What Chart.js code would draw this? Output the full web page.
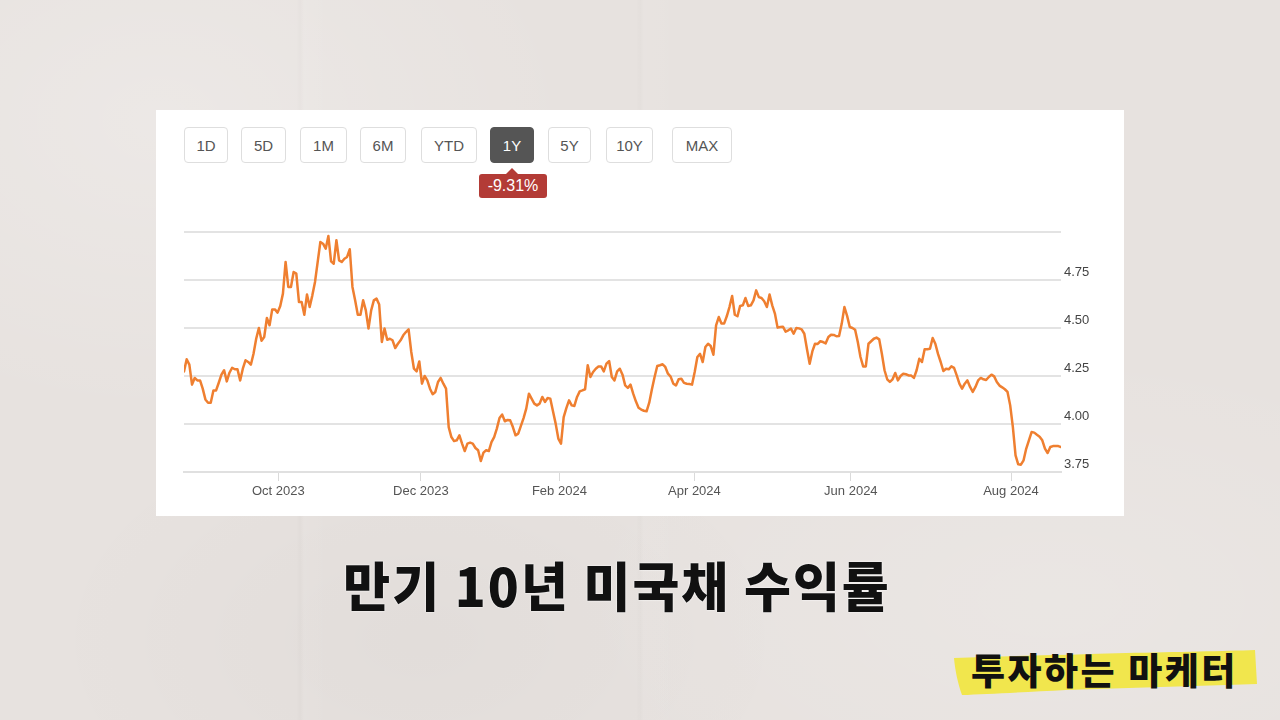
<!DOCTYPE html>
<html>
<head>
<meta charset="utf-8">
<script src="https://cdn.jsdelivr.net/npm/chart.js@4.4.1/dist/chart.umd.min.js"></script>
<style>
html,body{margin:0;padding:0;}
body{width:1280px;height:720px;overflow:hidden;position:relative;background:#e7e2df;font-family:'Liberation Sans',Arial,sans-serif;}
.paper{position:absolute;inset:0;background:
  radial-gradient(ellipse 420px 300px at 160px 120px, rgba(255,255,255,0.22), rgba(255,255,255,0) 100%),
  radial-gradient(ellipse 500px 260px at 1050px 600px, rgba(255,255,255,0.14), rgba(255,255,255,0) 100%),
  radial-gradient(ellipse 380px 240px at 420px 640px, rgba(0,0,0,0.025), rgba(0,0,0,0) 100%),
  linear-gradient(90deg, rgba(0,0,0,0) 296px, rgba(0,0,0,0.015) 300px, rgba(255,255,255,0.06) 304px, rgba(0,0,0,0) 330px, rgba(0,0,0,0) 636px, rgba(0,0,0,0.012) 640px, rgba(255,255,255,0.05) 644px, rgba(0,0,0,0) 680px);}
.panel{position:absolute;left:156px;top:110px;width:968px;height:406px;background:#fff;}
.btn{position:absolute;top:127px;height:36px;box-sizing:border-box;border:1px solid #dedede;border-radius:4px;color:#555;font-size:15px;display:flex;align-items:center;justify-content:center;background:#fff;}
.btn.on{background:#555;border-color:#555;color:#fff;}
.badge{position:absolute;left:479px;top:174px;width:68px;height:24px;background:#b33b36;color:#fff;border-radius:3px;font-size:16px;display:flex;align-items:center;justify-content:center;}
.tri{position:absolute;left:506px;top:168px;width:0;height:0;border-left:6px solid transparent;border-right:6px solid transparent;border-bottom:6px solid #b33b36;}
#wrap{position:absolute;left:156px;top:200px;width:968px;height:316px;}
.title{position:absolute;left:0;width:1234px;top:549px;text-align:center;font-family:'Noto Sans CJK KR',sans-serif;font-weight:900;font-size:51px;line-height:70px;color:#111;letter-spacing:2px;text-shadow:0 0 2px #fff,0 0 1px #fff;transform:scaleY(1.04);}
.brush{position:absolute;left:946px;top:644px;width:312px;height:54px;}
.tag{position:absolute;left:971px;top:643px;font-family:'Noto Sans CJK KR',sans-serif;font-weight:900;font-size:37px;line-height:52px;color:#111;white-space:nowrap;letter-spacing:2.5px;}
</style>
</head>
<body>
<div class="paper"></div>
<div class="panel"></div>
<div class="btn" style="left:184px;width:44px;">1D</div>
<div class="btn" style="left:241px;width:45px;">5D</div>
<div class="btn" style="left:300px;width:47px;">1M</div>
<div class="btn" style="left:360px;width:46px;">6M</div>
<div class="btn" style="left:421px;width:56px;">YTD</div>
<div class="btn on" style="left:490px;width:44px;">1Y</div>
<div class="btn" style="left:548px;width:43px;">5Y</div>
<div class="btn" style="left:606px;width:47px;">10Y</div>
<div class="btn" style="left:672px;width:60px;">MAX</div>
<div class="tri"></div>
<div class="badge">-9.31%</div>
<div id="wrap"><canvas id="c" width="968" height="316"></canvas></div>
<div class="title">만기 10년 미국채 수익률</div>
<svg class="brush" viewBox="0 0 312 54" width="312" height="54">
  <path d="M8 14 C60 12 120 11 180 9 C230 8 280 7 309 6 L311 40 C250 42 180 44 120 46 C80 48 40 50 16 51 C12 40 9 26 8 14 Z" fill="#f1e64d"/>
</svg>
<div class="tag">투자하는 마케터</div>
<script>
// 10-year US Treasury yield (%), one reading per plotted step, Aug 2023 - Aug 2024
const yields = [
 4.274,4.337,4.309,4.205,4.240,4.227,4.227,4.184,4.128,4.111,
 4.111,4.175,4.175,4.215,4.257,4.280,4.222,4.267,4.293,4.285,
 4.285,4.227,4.288,4.332,4.323,4.309,4.366,4.444,4.500,4.434,
 4.453,4.552,4.514,4.597,4.597,4.580,4.615,4.679,4.844,4.714,
 4.714,4.792,4.783,4.635,4.635,4.569,4.675,4.609,4.670,4.740,
 4.844,4.948,4.939,4.913,4.979,4.847,4.835,4.957,4.852,4.844,
 4.861,4.870,4.910,4.714,4.644,4.569,4.569,
 4.644,4.592,4.497,4.592,4.644,4.653,4.622,4.427,4.497,4.439,
 4.444,4.436,4.396,4.418,4.436,4.462,4.479,4.493,4.375,4.288,
 4.274,4.326,4.210,4.250,4.227,4.184,4.155,4.167,4.219,4.240,
 4.210,4.184,3.984,3.932,3.911,3.915,3.941,3.898,3.859,3.898,
 3.903,3.898,3.875,3.863,3.807,3.851,3.863,3.859,3.906,3.932,
 3.976,4.031,4.049,4.014,4.021,4.019,3.984,3.941,3.950,3.990,
 4.031,4.080,4.158,4.132,4.106,
 4.097,4.106,4.141,4.115,4.135,4.132,4.066,4.002,3.924,3.898,
 4.036,4.083,4.123,4.097,4.094,4.141,4.170,4.175,4.181,4.306,
 4.245,4.271,4.288,4.299,4.300,4.274,4.314,4.328,4.245,4.227,
 4.274,4.288,4.257,4.201,4.188,4.205,4.158,4.118,4.085,4.075,
 4.069,4.066,4.111,4.181,4.245,4.302,4.306,4.311,4.297,4.262,
 4.247,4.210,4.201,4.233,4.236,4.214,4.210,4.208,4.205,4.271,
 4.349,4.365,4.323,4.401,4.418,4.406,
 4.361,4.514,4.557,4.523,4.523,4.561,4.609,4.667,4.569,4.561,
 4.615,4.618,4.656,4.615,4.618,4.644,4.696,4.661,4.656,4.639,
 4.609,4.674,4.618,4.575,4.502,4.505,4.507,4.481,4.488,4.497,
 4.470,4.500,4.498,4.493,4.470,4.389,4.314,4.378,4.418,4.417,
 4.431,4.427,4.420,4.453,4.465,4.464,4.457,4.458,4.523,4.609,
 4.563,4.505,4.500,4.491,4.427,4.349,4.300,4.300,4.418,4.431,
 4.444,4.450,4.441,4.366,4.280,
 4.233,4.219,4.233,4.266,4.227,4.250,4.262,4.259,4.253,4.252,
 4.240,4.280,4.340,4.323,4.389,4.389,4.392,4.448,4.418,4.365,
 4.323,4.276,4.288,4.285,4.300,4.292,4.253,4.210,4.184,4.210,
 4.227,4.193,4.167,4.193,4.227,4.240,4.233,4.229,4.245,4.257,
 4.248,4.219,4.200,4.191,4.181,4.167,4.097,3.984,3.837,3.790,
 3.788,3.811,3.872,3.915,3.958,3.955,3.944,3.934,3.915,3.872,
 3.849,3.880,3.885,3.885,3.885,3.880
];
// month boundaries, as positions along the series
const tickPos = [35.3, 88.6, 140.4, 190.9, 249.4, 309.3];
const tickLabels = ['Oct 2023','Dec 2023','Feb 2024','Apr 2024','Jun 2024','Aug 2024'];
const yTicks = [3.75, 4.00, 4.25, 4.50, 4.75, 5.00];
const yLabels = ['3.75','4.00','4.25','4.50','4.75',''];

const ctx = document.getElementById('c').getContext('2d');
new Chart(ctx, {
  type: 'line',
  data: {
    datasets: [{
      data: yields.map((v, i) => ({x: i, y: v})),
      borderColor: '#ef7f30',
      borderWidth: 2.5,
      pointRadius: 0,
      tension: 0,
      fill: false,
      borderJoinStyle: 'round',
      borderCapStyle: 'round'
    }]
  },
  options: {
    responsive: false,
    animation: false,
    events: [],
    layout: {padding: {left: 28, top: 32, right: 0, bottom: 0}},
    plugins: {legend: {display: false}, tooltip: {enabled: false}},
    scales: {
      x: {
        type: 'linear',
        min: 0,
        max: yields.length - 1,
        afterBuildTicks: s => { s.ticks = tickPos.map(v => ({value: v})); },
        afterFit: s => { s.height = 44; },
        ticks: {
          autoSkip: false, maxRotation: 0, padding: 3,
          callback: (v, i) => tickLabels[i],
          color: '#555',
          font: {family: "'Liberation Sans', Arial, sans-serif", size: 13}
        },
        grid: {drawOnChartArea: false, drawTicks: true, tickLength: 9, color: '#dadada', lineWidth: 1},
        border: {display: true, color: '#e0e0e0', width: 2}
      },
      y: {
        position: 'right',
        min: 3.75,
        max: 5.0,
        afterBuildTicks: s => { s.ticks = yTicks.map(v => ({value: v})); },
        afterFit: s => { s.width = 63; },
        ticks: {
          callback: (v, i) => yLabels[i],
          labelOffset: -8,
          padding: 3,
          color: '#444',
          font: {family: "'Liberation Sans', Arial, sans-serif", size: 13}
        },
        grid: {color: '#e3e3e3', lineWidth: 2, drawTicks: false},
        border: {display: false}
      }
    }
  }
});
</script>
</body>
</html>
